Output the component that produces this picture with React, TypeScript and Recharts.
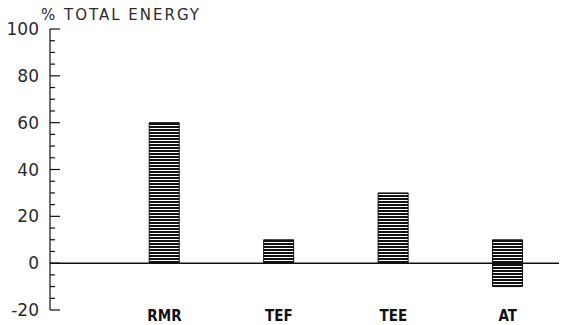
import React from "react";
import { ComposedChart, Bar, XAxis, YAxis, ReferenceLine } from "recharts";

const categories = ["RMR", "TEF", "TEE", "AT"];
const positions = [1, 2, 3, 4];
const lowValues = [0, 0, 0, -10];
const highValues = [60, 10, 30, 10];
const yTicks = [-20, -15, -10, -5, 0, 5, 10, 15, 20, 25, 30, 35, 40, 45, 50, 55, 60, 65, 70, 75, 80, 85, 90, 95, 100];

const data = categories.map((c, i) => ({
  name: c,
  pos: positions[i],
  range: [lowValues[i], highValues[i]],
}));

const YTick = (props: any) => {
  const { x, y, payload } = props;
  const v = payload.value;
  const major = v % 20 === 0;
  return (
    <g>
      <line x1={x} y1={y} x2={x + (major ? 10 : 5)} y2={y} stroke="#111" strokeWidth={1.2} />
      {major && (
        <text
          x={x - 11}
          y={y}
          textAnchor="end"
          dominantBaseline="central"
          fontFamily="DejaVu Sans, sans-serif"
          fontSize={17}
          fill="#2a2a2a"
        >
          {v}
        </text>
      )}
    </g>
  );
};

const XTick = (props: any) => {
  const { x, y, payload } = props;
  const idx = positions.indexOf(payload.value);
  if (idx < 0) return null;
  return (
    <text
      x={x}
      y={y + 6}
      textAnchor="middle"
      dominantBaseline="central"
      fontFamily="DejaVu Sans Condensed, sans-serif"
      fontWeight="bold"
      fontSize={15}
      fill="#111"
    >
      {categories[idx]}
    </text>
  );
};

export default function App() {
  return (
    <div style={{ position: "relative", margin: "-8px 0 0 -8px", width: 567, height: 325, background: "#fff" }}>
      <div
        style={{
          position: "absolute",
          left: 41,
          top: 5,
          fontFamily: "DejaVu Sans, sans-serif",
          fontSize: 15,
          letterSpacing: 2,
          color: "#2a2a2a",
          whiteSpace: "nowrap",
          lineHeight: "20px",
        }}
      >
        % TOTAL ENERGY
      </div>
      <ComposedChart
        width={567}
        height={325}
        data={data}
        margin={{ top: 29, right: 2, bottom: 0, left: 0 }}
      >
        <defs>
          <pattern id="stripes" patternUnits="userSpaceOnUse" width={6} height={3}>
            <rect x={0} y={0} width={6} height={2} fill="#111" />
            <rect x={0} y={2} width={6} height={1} fill="#fff" />
          </pattern>
        </defs>
        <XAxis
          dataKey="pos"
          type="number"
          domain={[0, 4.5]}
          ticks={positions}
          axisLine={false}
          tickLine={false}
          tickSize={0}
          tickMargin={0}
          height={15}
          tick={<XTick />}
          interval={0}
        />
        <YAxis
          type="number"
          domain={[-20, 100]}
          ticks={yTicks}
          interval={0}
          width={50}
          tickSize={0}
          tickMargin={0}
          tickLine={false}
          axisLine={{ stroke: "#111", strokeWidth: 1.2 }}
          tick={<YTick />}
        />
        <ReferenceLine y={0} stroke="#111" strokeWidth={1.5} />
        <Bar
          dataKey="range"
          barSize={30}
          fill="url(#stripes)"
          stroke="#111"
          strokeWidth={1}
          isAnimationActive={false}
        />
      </ComposedChart>
    </div>
  );
}
